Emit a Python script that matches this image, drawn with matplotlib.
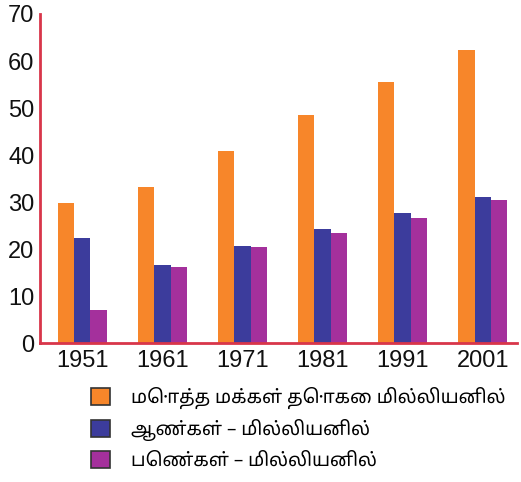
import numpy as np
import matplotlib
matplotlib.use("Agg")
import matplotlib.pyplot as plt
from matplotlib.patches import Patch

years = ['1951', '1961', '1971', '1981', '1991', '2001']
total = [29.8, 33.2, 40.8, 48.5, 55.6, 62.4]
males = [22.4, 16.6, 20.6, 24.2, 27.6, 31.0]
females = [7.1, 16.2, 20.4, 23.5, 26.7, 30.5]
labels = ['மொத்த மக்கள் தொகை மில்லியனில்',
          'ஆண்கள் – மில்லியனில்',
          'பெண்கள் – மில்லியனில்']
colors = ['#F7862A', '#3C3C9C', '#A4309C']

num_font = ['Liberation Sans', 'DejaVu Sans']
tamil_font = ['Noto Sans Tamil', 'Catamaran', 'Anek Tamil', 'Liberation Sans', 'DejaVu Sans']

fig = plt.figure(figsize=(5.21, 4.82), dpi=100)
ax = fig.add_axes([0.077, 0.288, 0.915, 0.683])

x = np.arange(len(years))
w = 0.205
for i, series in enumerate([total, males, females]):
    ax.bar(x + (i - 1) * w, series, width=w, color=colors[i], linewidth=0)

ax.set_xlim(-0.525, 5.425)
ax.set_ylim(0, 70)
ax.set_yticks(range(0, 71, 10))
ax.set_xticks(x)
ax.set_xticklabels(years)
ax.tick_params(length=0, labelsize=17, colors='#111111')
ax.tick_params(axis='x', pad=5)
ax.tick_params(axis='y', pad=4)
for lab in ax.get_xticklabels() + ax.get_yticklabels():
    lab.set_family(num_font)

for s in ['top', 'right']:
    ax.spines[s].set_visible(False)
for s in ['left', 'bottom']:
    ax.spines[s].set_color('#D8364A')
    ax.spines[s].set_linewidth(2)

# legend below the axes, one entry per row
handles = [Patch(facecolor=c, edgecolor='#333333', linewidth=1.2) for c in colors]
leg = fig.legend(handles, labels, loc='upper left', bbox_to_anchor=(0.143, 0.233),
                 frameon=False, handlelength=1.0, handleheight=1.0,
                 handletextpad=1.1, labelspacing=0.55,
                 prop={'family': tamil_font, 'size': 13.5})

fig.savefig('out.png', dpi=100)
